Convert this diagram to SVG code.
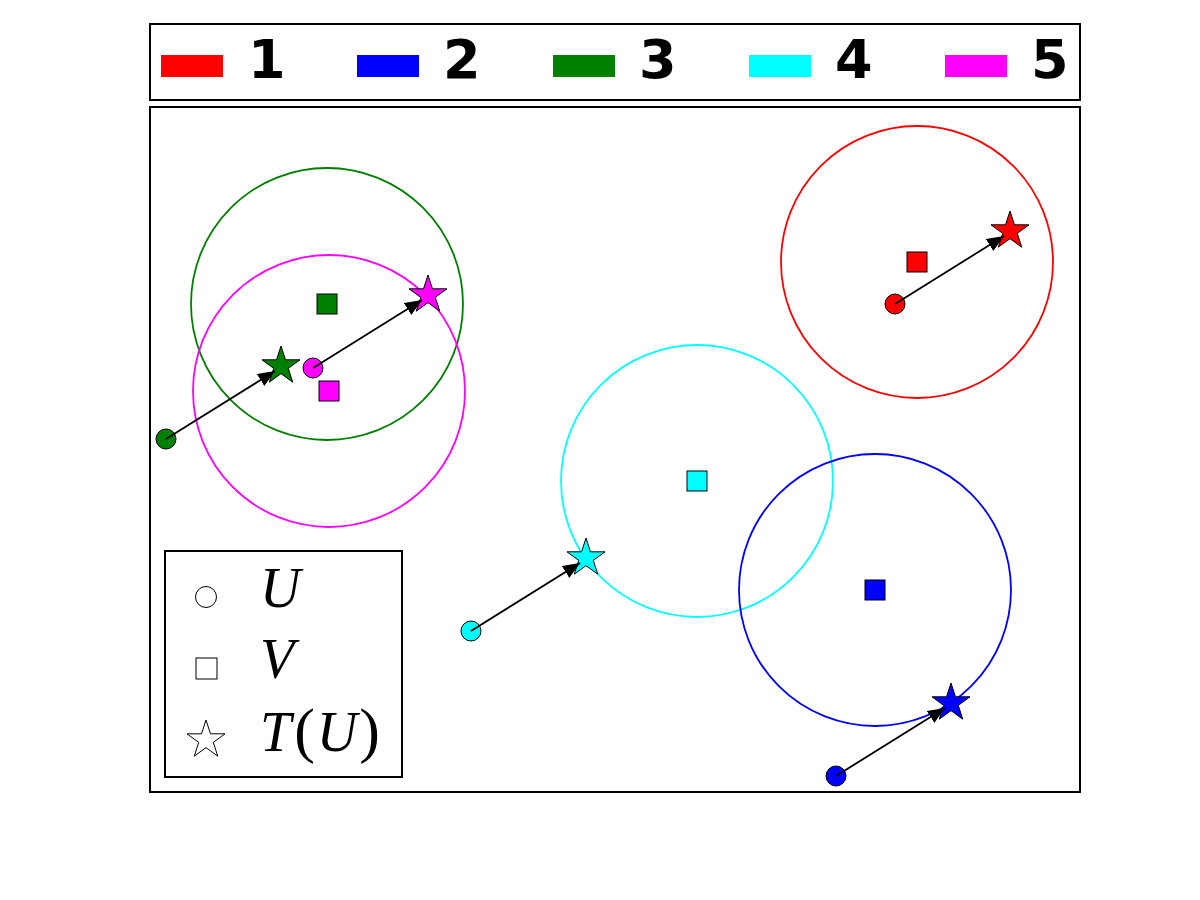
<svg xmlns="http://www.w3.org/2000/svg" xmlns:xlink="http://www.w3.org/1999/xlink" width="1200" height="900" viewBox="0 0 1200 900">
<style>
.frame{fill:none;stroke:#000;stroke-width:2}
.ring{fill:none;stroke-width:1.8}
.mk{stroke:#000;stroke-width:1}
.arrow{fill:none;stroke:#000;stroke-width:1.8}
.lg{font-family:"DejaVu Sans",sans-serif;font-weight:bold;font-size:54px;fill:#000}
.math{font-family:"Liberation Serif","DejaVu Serif",serif;font-style:italic;font-size:56px;fill:#000}
.up{font-style:normal;font-size:62px}
.open{fill:#fff;stroke:#000;stroke-width:1}
</style>
<defs>
<path id="star" d="M0,-20 L4.49,-6.18 L19.02,-6.18 L7.27,2.36 L11.76,16.18 L0,7.64 L-11.76,16.18 L-7.27,2.36 L-19.02,-6.18 L-4.49,-6.18 Z"/>
<marker id="ah" markerUnits="userSpaceOnUse" markerWidth="18" markerHeight="14" viewBox="0 0 18 14" refX="17" refY="7" orient="auto">
<path d="M0,0 L17,7 L0,14 Z" fill="#000"/>
</marker>
</defs>
<rect width="1200" height="900" fill="#fff"/>

<g id="legend-top">
<rect class="frame" x="150" y="24" width="930" height="76"/>
<rect x="161" y="55" width="62" height="22" fill="#ff0000"/>
<text class="lg" x="248" y="78">1</text>
<rect x="357" y="55" width="62" height="22" fill="#0000ff"/>
<text class="lg" x="443" y="78">2</text>
<rect x="553" y="55" width="62" height="22" fill="#008000"/>
<text class="lg" x="639" y="78">3</text>
<rect x="749" y="55" width="62" height="22" fill="#00ffff"/>
<text class="lg" x="835" y="78">4</text>
<rect x="945" y="55" width="62" height="22" fill="#ff00ff"/>
<text class="lg" x="1031" y="78">5</text>
</g>

<rect class="frame" x="150" y="107" width="930" height="685"/>

<g id="rings">
<circle class="ring" cx="917" cy="262" r="136" stroke="#ff0000"/>
<circle class="ring" cx="327" cy="304" r="136" stroke="#008000"/>
<circle class="ring" cx="329" cy="391" r="136" stroke="#ff00ff"/>
<circle class="ring" cx="697" cy="481" r="136" stroke="#00ffff"/>
<circle class="ring" cx="875" cy="590" r="136" stroke="#0000ff"/>
</g>

<g id="cluster1">
<rect class="mk" x="907" y="252" width="20" height="20" fill="#ff0000"/>
<circle class="mk" cx="895" cy="304" r="10" fill="#ff0000"/>
<use xlink:href="#star" class="mk" x="1010" y="231" fill="#ff0000"/>
</g>
<g id="cluster2">
<rect class="mk" x="865" y="580" width="20" height="20" fill="#0000ff"/>
<circle class="mk" cx="836" cy="776" r="10" fill="#0000ff"/>
<use xlink:href="#star" class="mk" x="951" y="703" fill="#0000ff"/>
</g>
<g id="cluster3">
<rect class="mk" x="317" y="294" width="20" height="20" fill="#008000"/>
<circle class="mk" cx="166" cy="439" r="10" fill="#008000"/>
<use xlink:href="#star" class="mk" x="281" y="366" fill="#008000"/>
</g>
<g id="cluster4">
<rect class="mk" x="687" y="471" width="20" height="20" fill="#00ffff"/>
<circle class="mk" cx="471" cy="631" r="10" fill="#00ffff"/>
<use xlink:href="#star" class="mk" x="586" y="558" fill="#00ffff"/>
</g>
<g id="cluster5">
<rect class="mk" x="319" y="381" width="20" height="20" fill="#ff00ff"/>
<circle class="mk" cx="313" cy="368" r="10" fill="#ff00ff"/>
<use xlink:href="#star" class="mk" x="428" y="295" fill="#ff00ff"/>
</g>

<g id="connectors">
<path class="arrow" d="M895,304 L1004,236" marker-end="url(#ah)"/>
<path class="arrow" d="M836,776 L945,708" marker-end="url(#ah)"/>
<path class="arrow" d="M166,439 L275,371" marker-end="url(#ah)"/>
<path class="arrow" d="M471,631 L580,563" marker-end="url(#ah)"/>
<path class="arrow" d="M313,368 L422,300" marker-end="url(#ah)"/>
</g>

<g id="legend-inset">
<rect x="165" y="551" width="237" height="226" fill="#fff" stroke="#000" stroke-width="2"/>
<circle class="open" cx="206" cy="597" r="10.5"/>
<text class="math" x="260" y="607">U</text>
<rect class="open" x="196" y="658" width="21" height="21"/>
<text class="math" x="260" y="678">V</text>
<use xlink:href="#star" class="open" x="206" y="740"/>
<text class="math" x="260" y="751">T<tspan class="up" dx="3">(</tspan><tspan dx="2">U</tspan><tspan class="up" dx="2">)</tspan></text>
</g>
</svg>
